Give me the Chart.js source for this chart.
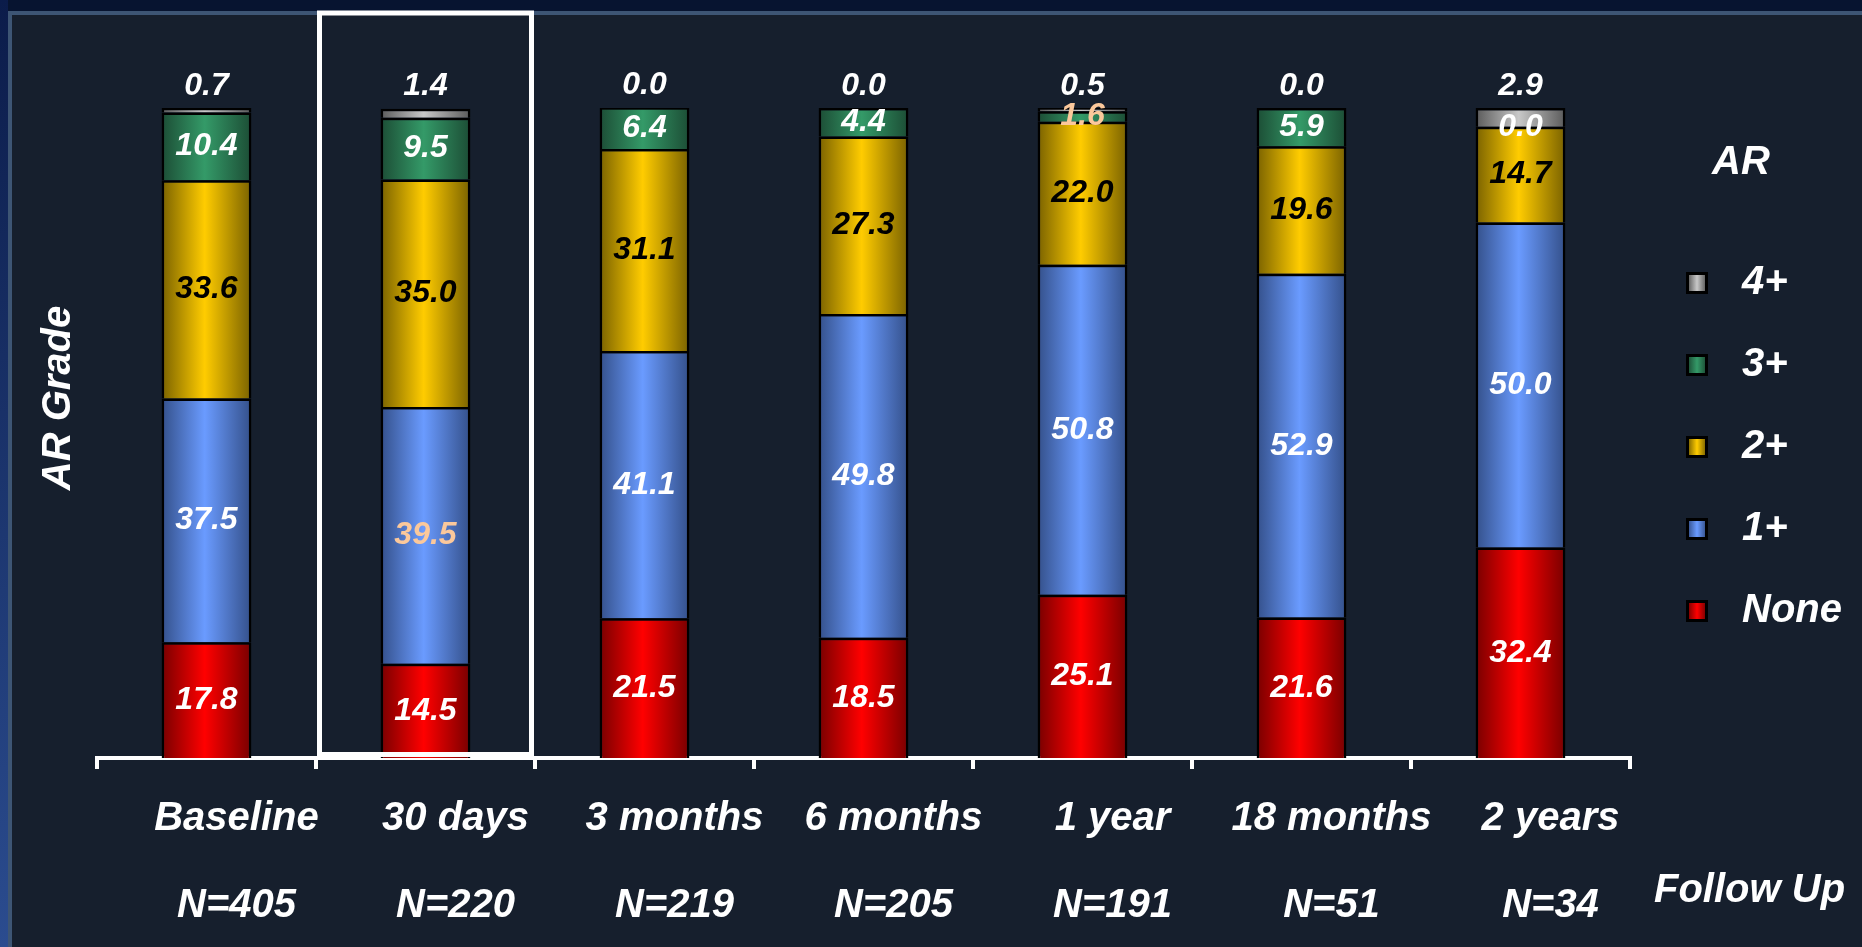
<!DOCTYPE html>
<html>
<head>
<meta charset="utf-8">
<title>AR Grade Follow Up</title>
<script src="https://cdn.jsdelivr.net/npm/chart.js@4.4.1/dist/chart.umd.min.js"></script>
<style>
  body { margin: 0; background: #071430; }
  .stage {
    position: relative; width: 1862px; height: 947px; overflow: hidden;
    background: linear-gradient(to bottom, #0b1c4a 0%, #2b4c8f 100%) left top / 8px 100% no-repeat, #071430;
  }
  .panel {
    position: absolute; left: 8px; top: 11px; right: 0; bottom: 0;
    border-left: 4px solid #3d5574; border-top: 4px solid #3d5574;
    background: #161f2d;
  }
  .chart-box { position: absolute; left: 0; top: 0; width: 1862px; height: 947px; }
</style>
</head>
<body>
<div class="stage">
  <div class="panel"></div>
  <div class="chart-box"><canvas id="arChart"></canvas></div>
</div>
<script>
// follow-up time points and patient counts
const CATEGORIES = ['Baseline', '30 days', '3 months', '6 months', '1 year', '18 months', '2 years'];
const SAMPLE_SIZES = [405, 220, 219, 205, 191, 51, 34];

// percent of patients per AR grade, stacked bottom (None) to top (4+)
const AR_NONE = [17.8, 14.5, 21.5, 18.5, 25.1, 21.6, 32.4];
const AR_1 = [37.5, 39.5, 41.1, 49.8, 50.8, 52.9, 50.0];
const AR_2 = [33.6, 35.0, 31.1, 27.3, 22.0, 19.6, 14.7];
const AR_3 = [10.4, 9.5, 6.4, 4.4, 1.6, 5.9, 0.0];
const AR_4 = [0.7, 1.4, 0.0, 0.0, 0.5, 0.0, 2.9];

const GRADES = ['None', '1+', '2+', '3+', '4+'];
const HIGHLIGHT = '30 days';

// edge / centre colours for the shaded bars
const SHADES = [
  { edge: '#780000', mid: '#ff0000' },
  { edge: '#34508a', mid: '#6a9bff' },
  { edge: '#7a6200', mid: '#ffcc00' },
  { edge: '#1c4d35', mid: '#349a68' },
  { edge: '#5a5a5a', mid: '#c8c8c8' }
];
const LABEL_COLORS = ['#ffffff', '#ffffff', '#000000', '#ffffff', '#ffffff'];
const PEACH = '#fbc89b';
const PEACH_LABELS = [[1, 1], [3, 4]];

const BAR_PCT = 0.41;
const FONT = '"Liberation Sans", Arial, sans-serif';

function barGradient(ctx, shade) {
  const chart = ctx.chart;
  const x = chart.scales.x;
  if (!x || ctx.dataIndex === undefined) return shade.mid;
  const center = x.getPixelForValue(ctx.dataIndex);
  const half = (x.getPixelForValue(1) - x.getPixelForValue(0)) * BAR_PCT / 2;
  const g = chart.ctx.createLinearGradient(center - half, 0, center + half, 0);
  g.addColorStop(0, shade.edge);
  g.addColorStop(0.48, shade.mid);
  g.addColorStop(1, shade.edge);
  return g;
}

// small shaded square used as legend marker
function swatch(shade) {
  const c = document.createElement('canvas');
  c.width = 22; c.height = 22;
  const g = c.getContext('2d');
  g.fillStyle = '#000';
  g.fillRect(0, 0, 22, 22);
  const grad = g.createLinearGradient(2, 0, 20, 0);
  grad.addColorStop(0, shade.edge);
  grad.addColorStop(0.5, shade.mid);
  grad.addColorStop(1, shade.edge);
  g.fillStyle = grad;
  g.fillRect(3, 3, 16, 16);
  return c;
}

const series = [AR_NONE, AR_1, AR_2, AR_3, AR_4];

const datasets = series.map((values, i) => ({
  label: GRADES[i],
  data: values,
  backgroundColor: ctx => barGradient(ctx, SHADES[i]),
  borderColor: '#000',
  borderWidth: 2.5,
  barPercentage: BAR_PCT,
  categoryPercentage: 1
}));

const decorations = {
  id: 'decorations',
  afterDatasetsDraw(chart) {
    const ctx = chart.ctx;
    const last = chart.data.datasets.length - 1;
    ctx.save();
    ctx.font = 'italic bold 32px ' + FONT;
    ctx.textAlign = 'center';
    ctx.textBaseline = 'middle';
    chart.data.datasets.forEach((ds, i) => {
      chart.getDatasetMeta(i).data.forEach((bar, j) => {
        const y = i === last ? Math.min(bar.y, bar.base) - 22 : (bar.y + bar.base) / 2;
        const peach = PEACH_LABELS.some(p => p[0] === i && p[1] === j);
        ctx.fillStyle = peach ? PEACH : LABEL_COLORS[i];
        ctx.fillText(ds.data[j].toFixed(1), bar.x, y);
      });
    });
    ctx.restore();
  },
  afterDraw(chart) {
    const ctx = chart.ctx;
    const area = chart.chartArea;
    const x = chart.scales.x;
    const catW = x.getPixelForValue(1) - x.getPixelForValue(0);
    const c = x.getPixelForValue(CATEGORIES.indexOf(HIGHLIGHT));

    ctx.save();
    // frame around the highlighted time point
    ctx.strokeStyle = '#ffffff';
    ctx.lineWidth = 5;
    ctx.strokeRect(c - catW / 2 + 3.5, 13, catW - 7, area.bottom - 3.5 - 13);

    ctx.fillStyle = '#ffffff';
    ctx.font = 'italic bold 40px ' + FONT;
    ctx.textBaseline = 'middle';
    ctx.textAlign = 'left';
    ctx.fillText('Follow Up', area.right + 24, x.top + 133);

    ctx.translate(area.left - 38, area.top + 290);
    ctx.rotate(-Math.PI / 2);
    ctx.textAlign = 'center';
    ctx.fillText('AR Grade', 0, 0);
    ctx.restore();
  }
};

Chart.defaults.color = '#ffffff';
Chart.defaults.font.family = FONT;

new Chart(document.getElementById('arChart'), {
  type: 'bar',
  data: { labels: CATEGORIES, datasets: datasets },
  plugins: [decorations],
  options: {
    responsive: true,
    maintainAspectRatio: false,
    animation: false,
    layout: { padding: { top: 108, left: 97, right: 10, bottom: 0 } },
    plugins: {
      tooltip: { enabled: false },
      legend: {
        position: 'right',
        align: 'start',
        reverse: true,
        title: {
          display: true,
          text: 'AR',
          color: '#ffffff',
          font: { size: 40, weight: 'bold', style: 'italic' },
          padding: { top: 35, bottom: 30 }
        },
        labels: {
          color: '#ffffff',
          font: { size: 40, weight: 'bold', style: 'italic' },
          padding: 42,
          usePointStyle: true,
          pointStyleWidth: 50,
          generateLabels: chart => chart.data.datasets.map((ds, i) => ({
            text: ds.label,
            pointStyle: swatch(SHADES[i]),
            fillStyle: SHADES[i].mid,
            strokeStyle: '#000',
            lineWidth: 0,
            fontColor: '#ffffff',
            hidden: false,
            datasetIndex: i
          }))
        }
      }
    },
    scales: {
      x: {
        stacked: true,
        // fixed band height for the two rows of category labels
        afterFit: scale => { scale.height = 189; },
        border: { display: true, color: '#ffffff', width: 4 },
        grid: { display: true, drawOnChartArea: false, drawTicks: true, tickLength: 11, color: '#ffffff', lineWidth: 4 },
        ticks: {
          color: '#ffffff',
          autoSkip: false,
          maxRotation: 0,
          padding: 6,
          labelOffset: 30,
          font: { size: 40, weight: 'bold', style: 'italic', lineHeight: 2.175 },
          callback: (v, i) => [CATEGORIES[i], 'N=' + SAMPLE_SIZES[i]]
        }
      },
      y: {
        stacked: true,
        display: false,
        min: 0,
        max: 100
      }
    }
  }
});
</script>
</body>
</html>
